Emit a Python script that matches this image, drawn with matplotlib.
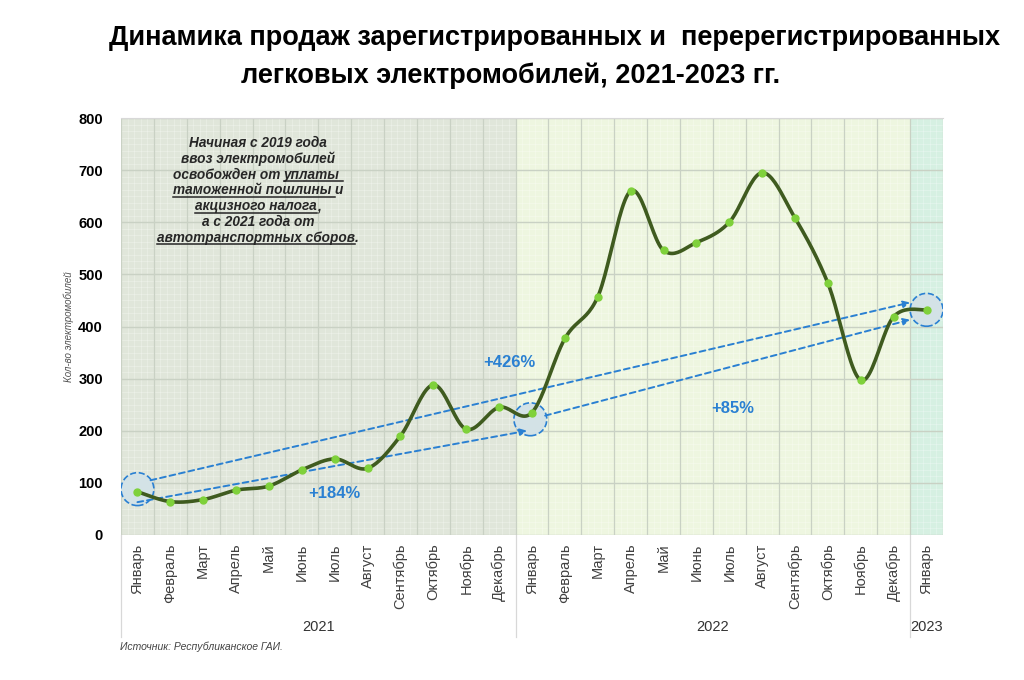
import matplotlib
matplotlib.use('Agg')
import matplotlib.pyplot as plt
from matplotlib.ticker import MultipleLocator
from matplotlib.lines import Line2D
import numpy as np

plt.rcParams['font.family'] = ['Liberation Sans', 'DejaVu Sans']

# ===== DATA =====
MONTHS = ["Январь", "Февраль", "Март", "Апрель", "Май", "Июнь", "Июль",
          "Август", "Сентябрь", "Октябрь", "Ноябрь", "Декабрь"]
LABELS = MONTHS + MONTHS + ["Январь"]
SALES = [83, 64, 68, 86, 94, 125, 146, 128, 190, 288, 203, 245,
         235, 377, 457, 660, 546, 561, 600, 695, 608, 483, 297, 419,
         432]
YEARS = ["2021", "2022", "2023"]
YEAR_SPANS = [(-0.5, 11.5), (11.5, 23.5), (23.5, 24.5)]
YEAR_COLORS = ["#e0e6da", "#eef6e0", "#d6f0e2"]

# trend arrows: (x0, y0, x1, y1)
ARROWS = [(0.4, 105, 23.5, 446),
          (0.0, 63, 11.85, 200),
          (12.4, 229, 23.5, 413)]
CIRCLES_X = [0, 11.95, 24]
CIRCLES_Y = [88, 222, 432]
GROWTH = [("+426%", 11.3, 330), ("+184%", 6.0, 79), ("+85%", 18.1, 242)]

BLUE = "#2a80d2"
LINE = "#3f5b1f"
DOT = "#7fd13b"


def catmull_rom(xs, ys, n=24):
    p = np.column_stack([xs, ys]).astype(float)
    p = np.vstack([p[0], p, p[-1]])
    out = []
    for i in range(1, len(p) - 2):
        p0, p1, p2, p3 = p[i - 1], p[i], p[i + 1], p[i + 2]
        t = np.linspace(0, 1, n)[:, None]
        seg = 0.5 * (2 * p1 + (-p0 + p2) * t + (2 * p0 - 5 * p1 + 4 * p2 - p3) * t ** 2
                     + (-p0 + 3 * p1 - 3 * p2 + p3) * t ** 3)
        out.append(seg)
    out = np.vstack(out)
    return out[:, 0], out[:, 1]


fig = plt.figure(figsize=(10.24, 6.8), dpi=100)
ax = fig.add_axes([121 / 1024, 1 - 535 / 680, 822 / 1024, 417 / 680])

for (a, b), c in zip(YEAR_SPANS, YEAR_COLORS):
    ax.axvspan(a, b, color=c, zorder=0, lw=0)

# grid
for b in np.arange(-0.5, 24.6, 0.2):
    ax.axvline(b, color="#ffffff", lw=0.5, alpha=0.35, zorder=0.5)
for b in np.arange(-0.5, 24.6, 1):
    ax.axvline(b, color="#c9d1c4", lw=0.9, zorder=0.6)
ax.yaxis.set_major_locator(MultipleLocator(100))
ax.yaxis.set_minor_locator(MultipleLocator(12.5))
ax.grid(axis='y', which='major', color="#c9d1c4", lw=1.0, zorder=0.6)
ax.grid(axis='y', which='minor', color="#ffffff", lw=0.5, alpha=0.35)
ax.set_axisbelow(True)

x = np.arange(len(SALES))
sx, sy = catmull_rom(x, SALES)

# circles and trend arrows
ax.scatter(CIRCLES_X, CIRCLES_Y, s=560, facecolor="#d3e2e6", edgecolor=BLUE,
           linestyle='--', linewidths=1.2, zorder=2)
for x0, y0, x1, y1 in ARROWS:
    ax.annotate('', xy=(x1, y1), xytext=(x0, y0),
                arrowprops=dict(arrowstyle='-|>', color=BLUE, lw=1.4, ls=(0, (3, 2)),
                                mutation_scale=10, shrinkA=0, shrinkB=0), zorder=3)

ax.plot(sx, sy, color=LINE, lw=2.6, zorder=4, solid_capstyle='round')
ax.plot(x, SALES, 'o', color=DOT, ms=5, zorder=5)

for txt, gx, gy in GROWTH:
    ax.text(gx, gy, txt, color=BLUE, fontsize=12, fontweight='bold', ha='center', va='center', zorder=6)

ax.set_xlim(-0.5, 24.5)
ax.set_ylim(0, 800)
ax.set_xticks(x)
ax.set_xticklabels(LABELS, rotation=90, fontsize=10.5, color="#404040", va='top')
ax.tick_params(axis='x', length=0, pad=6)
ax.tick_params(axis='y', which='both', length=0, pad=13, labelsize=10.5)
for t in ax.get_yticklabels():
    t.set_fontweight('bold')
for s in ax.spines.values():
    s.set_visible(False)
ax.spines['top'].set_visible(True)
ax.spines['top'].set_color("#d8d8d8")

ax.set_ylabel("Кол-во электромобилей", fontsize=7, fontstyle='italic', color="#555555", labelpad=3)

# year labels and separators
trans = ax.get_xaxis_transform()
for yr, (a, b) in zip(YEARS, YEAR_SPANS):
    ax.text((a + b) / 2, -0.22, yr, transform=trans, ha='center', va='center', fontsize=10.5, color="#333333")
for b in [-0.5, 11.5, 23.5]:
    ax.add_line(Line2D([b, b], [0, -0.245], transform=trans, color="#d8d8d8", lw=0.9, clip_on=False))

# title
fig.text(555 / 1024, 1 - 38 / 680, "Динамика продаж зарегистрированных и  перерегистрированных",
         ha='center', va='center', fontsize=19.5, fontweight='bold')
fig.text(511 / 1024, 1 - 76 / 680, "легковых электромобилей, 2021-2023 гг.",
         ha='center', va='center', fontsize=19.5, fontweight='bold')

fig.text(120 / 1024, 1 - 647 / 680, "Источник: Республиканское ГАИ.", fontsize=7.5,
         fontstyle='italic', color="#444444", va='center')

# note with underlined parts
NOTE = [[("Начиная с 2019 года", False)],
        [("ввоз электромобилей", False)],
        [("освобожден от ", False), ("уплаты ", True)],
        [("таможенной пошлины ", True), ("и", False)],
        [("акцизного налога", True), (",", False)],
        [("а с 2021 года от", False)],
        [("автотранспортных сборов", True), (".", False)]]

renderer = fig.canvas.get_renderer()
cx, top, step = 258, 147, 15.8
for i, line in enumerate(NOTE):
    base = top + i * step
    texts = []
    for seg, ul in line:
        t = fig.text(0, 1 - base / 680, seg, fontsize=9.8, fontweight='bold', fontstyle='italic',
                     color="#262626", va='baseline', ha='left')
        texts.append((t, t.get_window_extent(renderer).width, ul))
    total = sum(w for _, w, _ in texts)
    xp = cx - total / 2
    for t, w, ul in texts:
        t.set_x(xp / 1024)
        if ul:
            fig.add_artist(Line2D([xp / 1024, (xp + w) / 1024], [1 - (base + 2.5) / 680] * 2,
                                  color="#262626", lw=1.1))
        xp += w

fig.savefig("out.png", dpi=100)
